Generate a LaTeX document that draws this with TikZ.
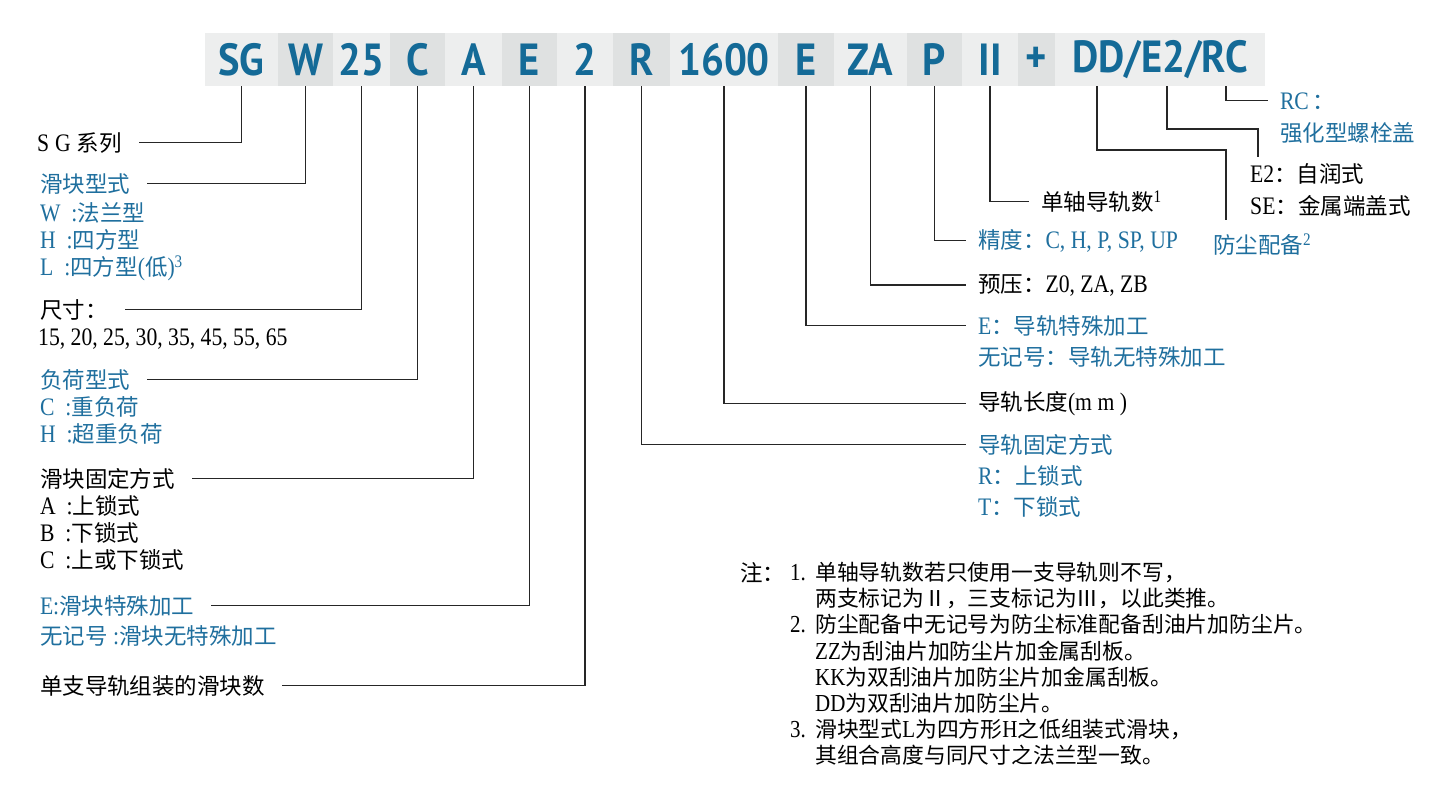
\documentclass[tikz,border=0pt]{standalone}
\usepackage{fontspec}
\setmainfont{Noto Sans CJK SC}
\newfontfamily\latf[Scale=1.12,FakeStretch=0.86]{Liberation Serif}
\newfontfamily\hdrfont[FakeStretch=0.9]{PT Sans}
\newcommand{\lat}[1]{{\latf #1}}
\newcommand{\sups}[1]{\textsuperscript{\latf #1}}
\newcommand{\labfont}{\fontsize{22.5}{27}\selectfont}
\definecolor{hdrblue}{HTML}{146A97}
\definecolor{txtblue}{HTML}{1F6F9E}
\definecolor{bandL}{HTML}{EDEEEE}
\definecolor{bandD}{HTML}{DFE1E1}

\begin{document}
\begin{tikzpicture}[x=1pt,y=-1pt,
		hbox/.style={%
			minimum height=53pt,
			inner sep=0pt,
			text=hdrblue,
			font=\hdrfont\bfseries\fontsize{45}{45}\selectfont
		},
		lite/.style={hbox,fill=bandL},
		dark/.style={hbox,fill=bandD},
		lab/.style={inner sep=0pt,anchor=base west,font=\labfont},
		headL/.style={lab,outer xsep=17pt},
		headR/.style={lab,outer xsep=12pt},
		blue/.style={text=txtblue},
		conn/.style={draw=black!85,line width=1.3pt}
	]
	\useasboundingbox (0,0) rectangle (1444,787);

	% code band
	\node[lite,minimum width=73pt] (hSG) at (241.5,59.5) {SG};
	\node[dark,minimum width=55pt] (hW) at (305.5,59.5) {W};
	\node[lite,minimum width=57pt] (h25) at (361.5,59.5) {25};
	\node[dark,minimum width=55pt] (hC) at (417.5,59.5) {C};
	\node[lite,minimum width=57pt] (hA) at (473.5,59.5) {A};
	\node[dark,minimum width=55pt] (hE) at (529.5,59.5) {E};
	\node[lite,minimum width=56pt] (h2) at (585,59.5) {2};
	\node[dark,minimum width=57pt] (hR) at (641.5,59.5) {R};
	\node[lite,minimum width=108pt] (h1600) at (724,59.5) {1600};
	\node[dark,minimum width=56pt] (hRE) at (806,59.5) {E};
	\node[lite,minimum width=73pt] (hZA) at (870.5,59.5) {ZA};
	\node[dark,minimum width=55pt] (hP) at (934.5,59.5) {P};
	\node[lite,minimum width=56pt] (hII) at (990,59.5) {II};
	\node[dark,minimum width=37pt] (hPlus) at (1036.5,59.5) {+};
	\node[lite,minimum width=210pt] (hEnd) at (1160,59.5) {DD/E2/RC};
	\coordinate (tDD) at (1097,86);
	\coordinate (tE2) at (1167,86);
	\coordinate (tRC) at (1226,86);

	% left side
	\node[headL] (lSG) at (20,151) {\lat{S\hspace{6pt}G}\hspace{6pt}系列};
	\node[headL,blue] (lType) at (23,192) {滑块型式};
	\node[lab,blue] (lTypeW) at (40,221) {\lat{W\ \ :}法兰型};
	\node[lab,blue] (lTypeH) at (40,248) {\lat{H\ \ :}四方型};
	\node[lab,blue] (lTypeL) at (40,275) {\lat{L\ \ :}四方型\lat{(}低\lat{)}\sups{3}};
	\node[headL] (lSize) at (23,318) {尺寸：};
	\node[lab] (lSizeV) at (38,345) {\lat{15, 20, 25, 30, 35, 45, 55, 65}};
	\node[headL,blue] (lLoad) at (23,388) {负荷型式};
	\node[lab,blue] (lLoadC) at (40,415) {\lat{C\ \ :}重负荷};
	\node[lab,blue] (lLoadH) at (40,442) {\lat{H\ \ :}超重负荷};
	\node[headL] (lBFix) at (23,487) {滑块固定方式};
	\node[lab] (lBFixA) at (40,514) {\lat{A\ \ :}上锁式};
	\node[lab] (lBFixB) at (40,541) {\lat{B\ \ :}下锁式};
	\node[lab] (lBFixC) at (40,568) {\lat{C\ \ :}上或下锁式};
	\node[headL,blue] (lBSp) at (23,614) {\lat{E:}滑块特殊加工};
	\node[lab,blue] (lBSpN) at (40,644) {无记号\lat{\ :}滑块无特殊加工};
	\node[headL] (lBNum) at (23,694) {单支导轨组装的滑块数};

	% right side
	\node[headR,blue] (lRC) at (1268,109) {\lat{RC}\,：};
	\node[lab,blue] (lRCt) at (1280,141) {强化型螺栓盖};
	\node[lab] (lE2) at (1250,182) {\lat{E2}：自润式};
	\node[lab] (lSE) at (1250,214) {\lat{SE}：金属端盖式};
	\node[headR] (lRails) at (1029,210) {单轴导轨数\sups{1}};
	\node[headR,blue] (lAcc) at (966,248) {精度：\lat{C, H, P, SP, UP}};
	\node[lab,blue] (lDust) at (1213,253) {防尘配备\sups{2}};
	\node[headR] (lPre) at (966,292) {预压：\lat{Z0, ZA, ZB}};
	\node[headR,blue] (lRSp) at (966,334) {\lat{E}：导轨特殊加工};
	\node[lab,blue] (lRSpN) at (978,365) {无记号：导轨无特殊加工};
	\node[headR] (lLen) at (966,410) {导轨长度\lat{(m m )}};
	\node[headR,blue] (lRFix) at (966,453) {导轨固定方式};
	\node[lab,blue] (lRFixR) at (978,484) {\lat{R}：上锁式};
	\node[lab,blue] (lRFixT) at (978,515) {\lat{T}：下锁式};

	% notes
	\node[lab] (nHead) at (740,581) {注：};
	\node[inner sep=0pt,anchor=north west,align=left,
		font=\fontsize{21.8}{26.2}\selectfont] (nBody) at (790,562) {%
		\makebox[25pt][l]{\lat{1.}}单轴导轨数若只使用一支导轨则不写，\\
		\hspace*{25pt}两支标记为Ⅱ，三支标记为Ⅲ，以此类推。\\
		\makebox[25pt][l]{\lat{2.}}防尘配备中无记号为防尘标准配备刮油片加防尘片。\\
		\hspace*{25pt}\lat{ZZ}为刮油片加防尘片加金属刮板。\\
		\hspace*{25pt}\lat{KK}为双刮油片加防尘片加金属刮板。\\
		\hspace*{25pt}\lat{DD}为双刮油片加防尘片。\\
		\makebox[25pt][l]{\lat{3.}}滑块型式\lat{L}为四方形\lat{H}之低组装式滑块，\\
		\hspace*{25pt}其组合高度与同尺寸之法兰型一致。
	};

	% connectors
	\draw[conn] (hSG.south) |- (lSG.east);
	\draw[conn] (hW.south) |- (lType.east);
	\draw[conn] (h25.south) |- (lSize.east);
	\draw[conn] (hC.south) |- (lLoad.east);
	\draw[conn] (hA.south) |- (lBFix.east);
	\draw[conn] (hE.south) |- (lBSp.east);
	\draw[conn] (h2.south) |- (lBNum.east);
	\draw[conn] (hR.south) |- (lRFix.west);
	\draw[conn] (h1600.south) |- (lLen.west);
	\draw[conn] (hRE.south) |- (lRSp.west);
	\draw[conn] (hZA.south) |- (lPre.west);
	\draw[conn] (hP.south) |- (lAcc.west);
	\draw[conn] (hII.south) |- (lRails.west);
	\draw[conn] (tDD) -- ++(0,64) -| ([xshift=13pt,yshift=14pt]lDust.north west);
	\draw[conn] (tE2) -- ++(0,43) -| ([xshift=8pt,yshift=6pt]lE2.north west);
	\draw[conn] (tRC) |- (lRC.west);
\end{tikzpicture}
\end{document}
